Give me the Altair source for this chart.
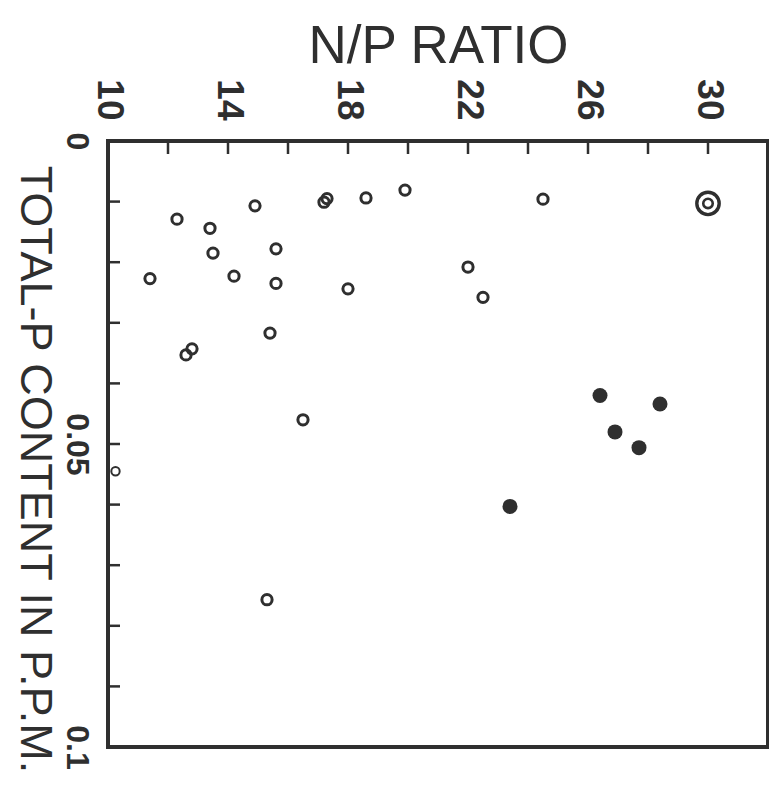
import altair as alt
import pandas as pd

# N/P ratio (x) and total-P content in p.p.m. (y)
open_np = [18.6, 17.3, 17.2, 14.9, 12.3, 13.4, 15.6, 13.5, 11.4, 14.2, 15.6,
           18.0, 15.4, 12.6, 12.8, 16.5, 15.3, 19.9, 24.5, 22.0, 22.5]
open_p = [0.0094, 0.0095, 0.0101, 0.0107, 0.0129, 0.0144, 0.0178, 0.0185,
          0.0227, 0.0223, 0.0235, 0.0244, 0.0317, 0.0353, 0.0343, 0.0460,
          0.0757, 0.0081, 0.0096, 0.0208, 0.0258]

filled_np = [26.4, 28.4, 26.9, 27.7, 23.4]
filled_p = [0.0420, 0.0434, 0.0480, 0.0506, 0.0603]

double_np = [30.0]
double_p = [0.0103]

small_np = [10.25]
small_p = [0.0545]

x_labels = [10, 14, 18, 22, 26, 30]
x_ticks = [12, 14, 16, 18, 20, 22, 24, 26, 28, 30]
y_labels = [0, 0.05, 0.1]
y_ticks = [0.01, 0.02, 0.03, 0.04, 0.05, 0.06, 0.07, 0.08, 0.09]

INK = "#2f2f2f"
LABEL_FONT = "'Liberation Sans Narrow', 'Liberation Sans', sans-serif"

df_open = pd.DataFrame({"np": open_np, "p": open_p})
df_filled = pd.DataFrame({"np": filled_np, "p": filled_p})
df_double = pd.DataFrame({"np": double_np, "p": double_p})
df_small = pd.DataFrame({"np": small_np, "p": small_p})
df_xt = pd.DataFrame({"np": x_ticks})
df_yt = pd.DataFrame({"p": y_ticks})

x_scale = alt.Scale(domain=[10, 32], nice=False, zero=False)
y_scale = alt.Scale(domain=[0, 0.1], reverse=True, nice=False, zero=False)

x_axis = alt.Axis(
    orient="top", values=x_labels, title="N/P RATIO", grid=False, ticks=False,
    domain=False, labelAngle=90, labelAlign="right", labelBaseline="middle",
    labelPadding=21, labelFont=LABEL_FONT, labelFontSize=37,
    labelFontWeight="bold", labelColor=INK, titleFont="Liberation Sans",
    titleFontSize=53, titleFontWeight="normal", titleColor=INK,
    titleY=-79, titleBaseline="alphabetic", titleAnchor="middle",
    labelFlush=False, labelOverlap=False,
)
y_axis = alt.Axis(
    orient="left", values=y_labels, format=".2~f",
    title="TOTAL-P CONTENT IN P.P.M.",
    grid=False, ticks=False, domain=False, labelAngle=90, labelAlign="center",
    labelBaseline="top", labelPadding=17, labelFont=LABEL_FONT,
    labelFontSize=32, labelFontWeight="bold", labelColor=INK,
    titleFont="Liberation Sans", titleFontSize=45, titleFontWeight="normal",
    titleColor=INK, titleAngle=90, titleX=-74, titleY=328,
    titleAlign="center", titleBaseline="middle",
    labelFlush=False, labelOverlap=False,
)

X = alt.X("np:Q", scale=x_scale, axis=x_axis)
Y = alt.Y("p:Q", scale=y_scale, axis=y_axis)

open_pts = alt.Chart(df_open).mark_point(
    shape="circle", filled=False, size=105, strokeWidth=3, color=INK, opacity=1
).encode(x=X, y=Y)

filled_pts = alt.Chart(df_filled).mark_point(
    shape="circle", filled=True, size=225, color=INK, opacity=1
).encode(x=X, y=Y)

double_outer = alt.Chart(df_double).mark_point(
    shape="circle", filled=False, size=500, strokeWidth=3.4, color=INK, opacity=1
).encode(x=X, y=Y)
double_inner = alt.Chart(df_double).mark_point(
    shape="circle", filled=False, size=90, strokeWidth=2.6, color=INK, opacity=1
).encode(x=X, y=Y)

small_pts = alt.Chart(df_small).mark_point(
    shape="circle", filled=False, size=70, strokeWidth=2.0, color=INK, opacity=1
).encode(x=X, y=Y)

x_tick_marks = alt.Chart(df_xt).mark_rule(color=INK, strokeWidth=2.5).encode(
    x=X, y=alt.value(0), y2=alt.value(13)
)
y_tick_marks = alt.Chart(df_yt).mark_rule(color=INK, strokeWidth=2.5).encode(
    y=Y, x=alt.value(0), x2=alt.value(12)
)

chart = alt.layer(
    open_pts, x_tick_marks, y_tick_marks, small_pts, filled_pts,
    double_outer, double_inner,
).properties(
    width=660, height=606,
    autosize=alt.AutoSizeParams(type="none"),
    padding={"left": 108, "top": 141, "right": 1, "bottom": 43},
    background="white",
).configure_view(stroke=INK, strokeWidth=4)

chart.save("out.html", embed_options={"renderer": "svg", "actions": False})
